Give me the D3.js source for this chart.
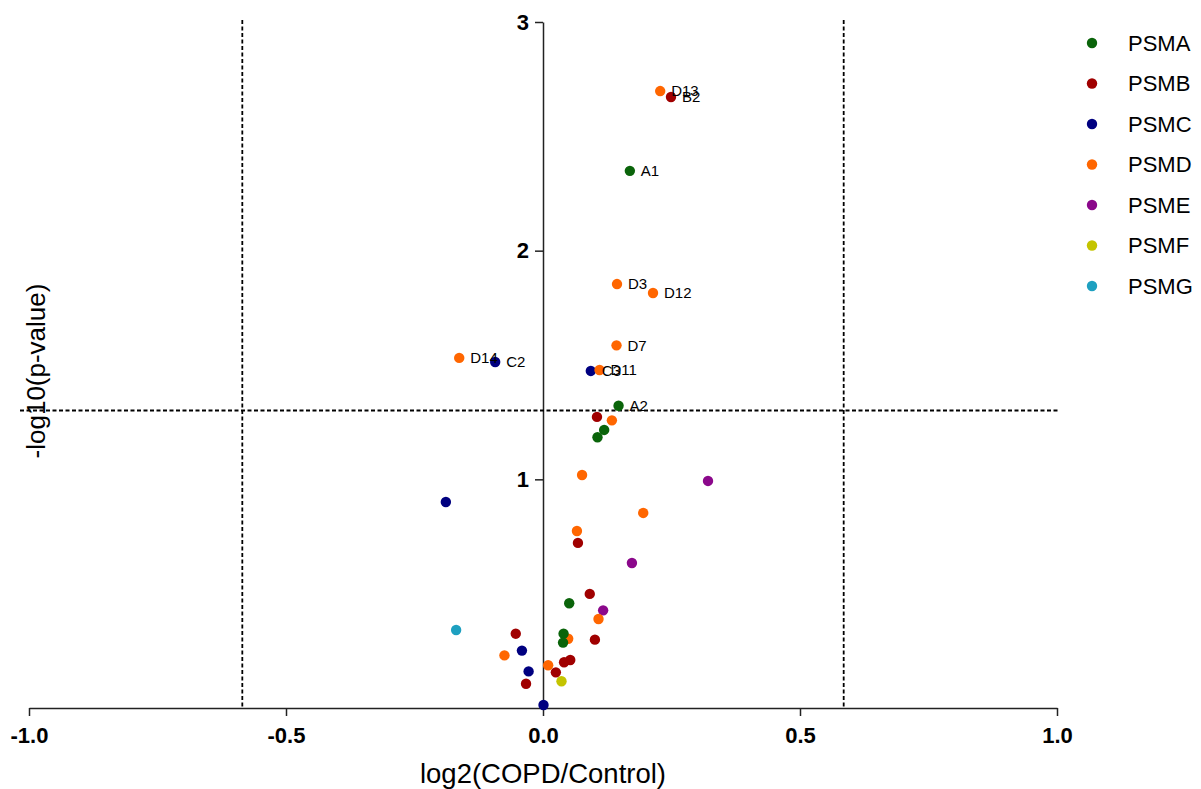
<!DOCTYPE html>
<html><head><meta charset="utf-8">
<script src="https://cdn.jsdelivr.net/npm/d3@7"></script>
<style>body{margin:0;background:#fff}svg{display:block;font-family:"Liberation Sans",Arial,sans-serif}</style>
</head><body><svg id="c" width="1201" height="789"></svg>
<script>
const groupNames = ["PSMA","PSMB","PSMC","PSMD","PSME","PSMF","PSMG"];
const groupColors = ["#0a640a","#a00000","#000080","#ff6600","#8b088b","#c4c400","#1ea0c0"];
// points in draw order
const pointGroup = ["PSMD","PSMB","PSMA","PSMD","PSMD","PSMD","PSMD","PSMC","PSMC","PSMD","PSMA",
  "PSMB","PSMD","PSMA","PSMA","PSMD","PSME","PSMC","PSMD","PSMD","PSMB","PSME","PSMB","PSMA","PSME",
  "PSMD","PSMG","PSMB","PSMD","PSMA","PSMA","PSMB","PSMC","PSMD","PSMD","PSMB","PSMB","PSMC","PSMB",
  "PSMB","PSMF","PSMC"];
const pointX = [0.228,0.249,0.169,0.144,0.214,0.143,-0.163,-0.093,0.093,0.110,0.147,
  0.105,0.134,0.119,0.106,0.076,0.321,-0.189,0.195,0.066,0.068,0.173,0.091,0.051,0.117,
  0.108,-0.169,-0.053,0.049,0.040,0.039,0.101,-0.041,-0.075,0.010,0.041,0.053,-0.028,0.025,
  -0.033,0.036,0.001];
const pointY = [2.698,2.672,2.349,1.854,1.815,1.586,1.531,1.513,1.474,1.478,1.322,
  1.273,1.258,1.216,1.184,1.019,0.993,0.901,0.853,0.774,0.722,0.634,0.499,0.458,0.427,
  0.389,0.341,0.325,0.303,0.325,0.286,0.299,0.251,0.230,0.187,0.200,0.210,0.160,0.156,
  0.106,0.117,0.013];
const pointLabel = ["D13","B2","A1","D3","D12","D7","D14","C2","C3","D11","A2",
  "","","","","","","","","","","","","","","","","","","","","","","","","","","","","","",""];
const xTicks = [-1.0,-0.5,0.0,0.5,1.0];
const xTickLabels = ["-1.0","-0.5","0.0","0.5","1.0"];
const yTicks = [1,2,3];
const yTickLabels = ["1","2","3"];
const fcCut = [-0.585,0.585];
const pCut = 1.301;

const svg = d3.select("#c");
const x = d3.scaleLinear().domain([-1,1]).range([29,1057]);
const y = d3.scaleLinear().domain([0,3]).range([708,22]);
const col = d3.scaleOrdinal().domain(groupNames).range(groupColors);
const FF = "Liberation Sans, Arial, sans-serif";

// x axis
const gx = svg.append("g").attr("transform",`translate(0,${y(0)})`)
  .call(d3.axisBottom(x).tickValues(xTicks).tickFormat((d,i)=>xTickLabels[i]).tickSize(8).tickSizeOuter(0));
gx.select(".domain").attr("stroke","#222").attr("stroke-width",1.5);
gx.selectAll(".tick line").attr("stroke","#222").attr("stroke-width",1.5);
gx.selectAll(".tick text").attr("font-size",22).attr("font-weight","bold").attr("fill","#000")
  .attr("y",35).attr("dy",0).attr("font-family",FF);

// y axis
const gy = svg.append("g").attr("transform",`translate(${x(0)},0)`)
  .call(d3.axisLeft(y).tickValues(yTicks).tickFormat((d,i)=>yTickLabels[i]).tickSize(8).tickSizeOuter(0));
gy.select(".domain").attr("stroke","#222").attr("stroke-width",1.5);
gy.selectAll(".tick line").attr("stroke","#222").attr("stroke-width",1.5);
gy.selectAll(".tick text").attr("font-size",22).attr("font-weight","bold").attr("fill","#000").attr("x",-14)
  .attr("font-family",FF);

// threshold lines
fcCut.forEach(v=>{
  svg.append("line").attr("x1",x(v)).attr("x2",x(v)).attr("y1",y(3)-2).attr("y2",y(0))
    .attr("stroke","#000").attr("stroke-width",1.8).attr("stroke-dasharray","4,2.5");
});
svg.append("line").attr("x1",20).attr("x2",x(1)+1).attr("y1",y(pCut)).attr("y2",y(pCut))
  .attr("stroke","#000").attr("stroke-width",1.8).attr("stroke-dasharray","4,2.5");

// points
const pts = pointX.map((v,i)=>({x:v,y:pointY[i],g:pointGroup[i],l:pointLabel[i]}));
svg.append("g").selectAll("circle").data(pts).join("circle")
  .attr("cx",d=>x(d.x)).attr("cy",d=>y(d.y)).attr("r",5.2).attr("fill",d=>col(d.g));
svg.append("g").selectAll("text").data(pts.filter(d=>d.l)).join("text")
  .attr("x",d=>x(d.x)+11).attr("y",d=>y(d.y)).attr("dy","0.36em")
  .attr("font-size",15).attr("fill","#000").text(d=>d.l);

// axis titles
svg.append("text").attr("x",x(0)).attr("y",783).attr("text-anchor","middle")
  .attr("font-size",27.5).attr("fill","#000").text("log2(COPD/Control)");
svg.append("text").attr("transform",`translate(45,${371}) rotate(-90)`).attr("text-anchor","middle")
  .attr("font-size",26).attr("fill","#000").text("-log10(p-value)");

// legend
const lg = svg.append("g").selectAll("g").data(groupNames).join("g")
  .attr("transform",(d,i)=>`translate(1092,${43+i*40.5})`);
lg.append("circle").attr("r",5.2).attr("fill",d=>col(d));
lg.append("text").attr("x",36).attr("dy","0.36em").attr("font-size",22).attr("fill","#000").text(d=>d);
</script></body></html>
